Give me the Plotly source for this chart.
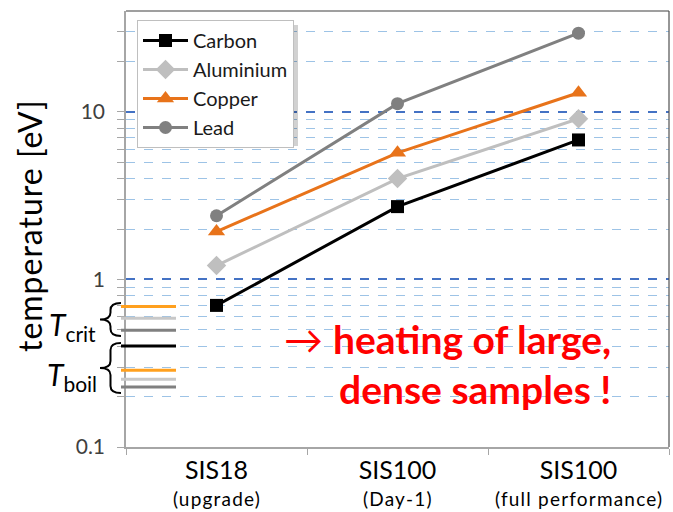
import plotly.graph_objects as go
import math

# ---------------- data ----------------
cat_main = ["SIS18", "SIS100", "SIS100"]
cat_sub = ["(upgrade)", "(Day-1)", "(full performance)"]
series_names = ["Carbon", "Aluminium", "Copper", "Lead"]
carbon = [0.70, 2.72, 6.8]
aluminium = [1.21, 4.0, 9.1]
copper = [1.93, 5.7, 13.0]
lead = [2.4, 11.2, 29.5]

# critical / boiling temperatures (eV) shown as short bars at left
t_crit_vals = [0.69, 0.586, 0.497]
t_crit_colors = ["#FFA01E", "#C8C8C8", "#808080"]
t_boil_vals = [0.40, 0.287, 0.254, 0.228]
t_boil_colors = ["#000000", "#FFA01E", "#C8C8C8", "#808080"]

y_major = [0.1, 1, 10]
y_minor = [0.2, 0.3, 0.4, 0.5, 0.6, 0.7, 0.8, 0.9,
           2, 3, 4, 5, 6, 7, 8, 9, 20, 30]

# ---------------- figure ----------------
FONT = "Lato"
W, H = 673, 512
ML, MR, MT, MB = 126, 4, 11, 65
PW, PH = W - ML - MR, H - MT - MB

xpos = list(range(len(cat_main)))
xbounds = [i - 0.5 for i in range(len(cat_main) + 1)]


def px2paper(x, y):
    return (x - ML) / PW, (H - MB - y) / PH


styles = [
    dict(color="#000000", symbol="square", size=13),
    dict(color="#BFBFBF", symbol="diamond", size=15),
    dict(color="#E8731A", symbol="triangle-up", size=15),
    dict(color="#808080", symbol="circle", size=13),
]

fig = go.Figure()
for name, vals, st in zip(series_names, [carbon, aluminium, copper, lead], styles):
    fig.add_trace(go.Scatter(
        x=xpos, y=vals, name=name, mode="lines+markers",
        line=dict(color=st["color"], width=3),
        marker=dict(color=st["color"], symbol=st["symbol"], size=st["size"]),
        legendgroup=name,
    ))

# invisible helper trace for linear overlay axis (log10 coords)
fig.add_trace(go.Scatter(x=[], y=[], yaxis="y2", showlegend=False, hoverinfo="skip"))

shapes = []
# legend shadow
sx0, sy1 = px2paper(142, 25)
sx1, sy0 = px2paper(298, 146)
shapes.append(dict(type="rect", xref="paper", yref="paper", x0=sx0, x1=sx1, y0=sy0, y1=sy1,
                   fillcolor="rgba(0,0,0,0.18)", line=dict(width=0), layer="above"))

# dark top / right frame of plot area
shapes.append(dict(type="line", xref="paper", yref="paper", x0=0, x1=1, y0=1, y1=1,
                   line=dict(color="#404040", width=1.2)))
shapes.append(dict(type="line", xref="paper", yref="paper", x0=1, x1=1, y0=0, y1=1,
                   line=dict(color="#505050", width=1.2)))

lx0 = px2paper(121, 0)[0]
lx1 = px2paper(176, 0)[0]
for v, c in list(zip(t_crit_vals, t_crit_colors)) + list(zip(t_boil_vals, t_boil_colors)):
    shapes.append(dict(type="line", xref="paper", yref="y2", x0=lx0, x1=lx1,
                       y0=math.log10(v), y1=math.log10(v),
                       line=dict(color=c, width=3), layer="above"))


def brace_path(xr, yt, yb, w=21, q=7):
    xm = xr - w / 2
    xl = xr - w
    ym = (yt + yb) / 2
    pts = lambda x, y: "%.5f,%.5f" % px2paper(x, y)
    return ("M " + pts(xr, yt) + " Q " + pts(xm, yt) + " " + pts(xm, yt + q) +
            " L " + pts(xm, ym - q) + " Q " + pts(xm, ym) + " " + pts(xl, ym) +
            " Q " + pts(xm, ym) + " " + pts(xm, ym + q) +
            " L " + pts(xm, yb - q) + " Q " + pts(xm, yb) + " " + pts(xr, yb))


for yt, yb in [(303, 336), (343, 393)]:
    shapes.append(dict(type="path", xref="paper", yref="paper", path=brace_path(121, yt, yb),
                       line=dict(color="#000000", width=2)))

annotations = []
# category sub-labels
sub_y = px2paper(0, 498)[1]
for xp, s in zip(xpos, cat_sub):
    annotations.append(dict(text="<span style='letter-spacing:1.2px'>%s</span>" % s,
                            x=xp, y=sub_y, xref="x", yref="paper",
                            xanchor="center", yanchor="middle", showarrow=False,
                            font=dict(family=FONT, size=19, color="#000000")))
# y title
tx, ty = px2paper(29, 226)
annotations.append(dict(text="<span style='letter-spacing:1px'>temperature [eV]</span>",
                        x=tx, y=ty, xref="paper", yref="paper",
                        xanchor="center", yanchor="middle",
                        textangle=-90, showarrow=False,
                        font=dict(family=FONT, size=32, color="#000000")))
# T labels
ax_, ay_ = px2paper(98, 326)
annotations.append(dict(text="<i>T</i><sub>crit</sub>", x=ax_, y=ay_, xref="paper", yref="paper",
                        xanchor="right", yanchor="middle", showarrow=False,
                        font=dict(family=FONT, size=30, color="#000000")))
ax_, ay_ = px2paper(99, 376)
annotations.append(dict(text="<i>T</i><sub>boil</sub>", x=ax_, y=ay_, xref="paper", yref="paper",
                        xanchor="right", yanchor="middle", showarrow=False,
                        font=dict(family=FONT, size=30, color="#000000")))
# red message
ax_, ay_ = px2paper(613, 339)
annotations.append(dict(text="→ <b>heating of large,</b>", x=ax_, y=ay_, xref="paper", yref="paper",
                        xanchor="right", yanchor="middle", showarrow=False,
                        font=dict(family=FONT, size=39, color="#FF0000")))
ax_, ay_ = px2paper(613, 389)
annotations.append(dict(text="<b>dense samples !</b>", x=ax_, y=ay_, xref="paper", yref="paper",
                        xanchor="right", yanchor="middle", showarrow=False,
                        font=dict(family=FONT, size=39, color="#FF0000")))

lgx, lgy = px2paper(137, 20)

fig.update_layout(
    width=W, height=H,
    margin=dict(l=ML, r=MR, t=MT, b=MB, pad=0),
    paper_bgcolor="white", plot_bgcolor="white",
    font=dict(family=FONT, color="#000000"),
    showlegend=True,
    legend=dict(x=lgx, y=lgy, xanchor="left", yanchor="top",
                bgcolor="white", bordercolor="#BFBFBF", borderwidth=1,
                font=dict(family=FONT, size=20, color="#1a1a1a"),
                tracegroupgap=0, itemwidth=45),
    xaxis=dict(tickmode="array", tickvals=xpos, ticktext=cat_main,
               ticks="", ticklen=0, ticklabelstandoff=0,
               showline=True, linecolor="#A6A6A6", linewidth=1.5,
               showgrid=False, zeroline=False, automargin=False,
               tickfont=dict(family=FONT, size=25, color="#000000"),
               range=[xbounds[0], xbounds[-1]],
               minor=dict(tickvals=xbounds, ticks="outside", ticklen=6,
                          tickcolor="#A6A6A6", showgrid=False)),
    yaxis=dict(type="log", range=[-1, math.log10(40)],
               tickvals=y_major, ticktext=[str(v) for v in y_major],
               ticks="outside", ticklen=7, tickcolor="#A6A6A6",
               showline=True, linecolor="#A6A6A6", linewidth=1.5,
               showgrid=True, gridcolor="#4472C4", gridwidth=1.5, griddash="dash",
               tickfont=dict(family=FONT, size=21, color="#404040"),
               ticklabelstandoff=8, automargin=False,
               zeroline=False,
               minor=dict(tickvals=y_minor, ticks="outside", ticklen=7, tickcolor="#A6A6A6",
                          showgrid=True, gridcolor="#9DC3E6", gridwidth=1.2, griddash="dash")),
    yaxis2=dict(overlaying="y", range=[-1, math.log10(40)], visible=False, showgrid=False),
    shapes=shapes,
    annotations=annotations,
)

fig.write_html("out.html")
